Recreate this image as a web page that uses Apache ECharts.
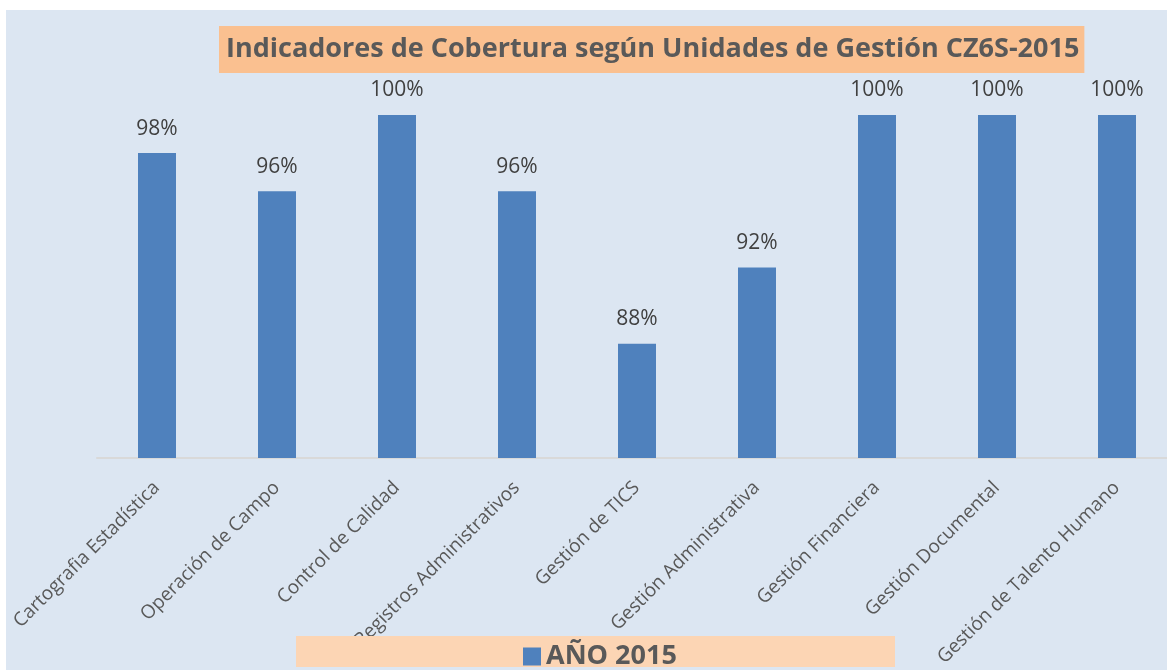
<!DOCTYPE html>
<html>
<head>
<meta charset="utf-8">
<script src="https://cdn.jsdelivr.net/npm/echarts@6/dist/echarts.min.js"></script>
<style>
  html, body { margin: 0; padding: 0; background: #fff; overflow: hidden; }
  #main { width: 1180px; height: 670px; }
</style>
</head>
<body>
<div id="main"></div>
<script>
var categories = ['Cartografia Estadística', 'Operación de Campo', 'Control de Calidad',
  'Registros Administrativos', 'Gestión de TICS', 'Gestión Administrativa',
  'Gestión Financiera', 'Gestión Documental', 'Gestión de Talento Humano'];
var values2015 = [0.98, 0.96, 1.00, 0.96, 0.88, 0.92, 1.00, 1.00, 1.00];
var seriesName = 'AÑO 2015';
var yMin = 0.82;
var yMax = 1.0;

// the plot area runs a little past the right edge of the picture,
// so the canvas is a bit wider than the window and gets cropped
var chart = echarts.init(document.getElementById('main'));
var option = {
  backgroundColor: '#dce6f2',
  animation: false,
  textStyle: { fontFamily: 'Open Sans' },
  title: {
    text: 'Indicadores de Cobertura según Unidades de Gestión CZ6S-2015',
    left: 219,
    top: 26,
    backgroundColor: '#fac090',
    padding: [8, 5, 8, 7],
    textStyle: {
      color: '#595959',
      fontSize: 27,
      fontWeight: 'bold',
      fontFamily: 'Open Sans',
      lineHeight: 31
    }
  },
  graphic: [
    // white margins around the plot background
    { type: 'rect', left: 0, top: 0, shape: { width: 1180, height: 10 }, style: { fill: '#ffffff' }, z: 0 },
    { type: 'rect', left: 0, top: 0, shape: { width: 6, height: 670 }, style: { fill: '#ffffff' }, z: 0 },
    // legend box
    { type: 'rect', left: 296, top: 636, shape: { width: 599, height: 31 }, style: { fill: '#fcd5b4' }, z: 100 }
  ],
  legend: {
    data: [seriesName],
    left: 518,
    top: 638,
    z: 200,
    icon: 'rect',
    itemWidth: 18,
    itemHeight: 18,
    itemGap: 6,
    textStyle: {
      color: '#595959',
      fontSize: 27,
      fontWeight: 'bold',
      fontFamily: 'Open Sans'
    }
  },
  grid: {
    left: 97,
    top: 115,
    right: 3,
    bottom: 212,
    containLabel: false
  },
  xAxis: {
    type: 'category',
    data: categories,
    axisLine: { lineStyle: { color: '#d9d9d9', width: 2 } },
    axisTick: { show: false },
    axisLabel: {
      interval: 0,
      rotate: 45,
      margin: 13,
      padding: [0, 10, 0, 0],
      verticalAlign: 'top',
      color: '#595959',
      fontSize: 19,
      fontFamily: 'Open Sans'
    }
  },
  yAxis: {
    type: 'value',
    min: yMin,
    max: yMax,
    show: false,
    splitLine: { show: false }
  },
  series: [{
    name: seriesName,
    type: 'bar',
    data: values2015,
    barWidth: 38,
    itemStyle: { color: '#4f81bd' },
    label: {
      show: true,
      position: 'top',
      distance: 14,
      color: '#404040',
      fontSize: 21,
      fontFamily: 'Open Sans',
      formatter: function (p) { return Math.round(p.value * 100) + '%'; }
    }
  }]
};
chart.setOption(option);
</script>
</body>
</html>
